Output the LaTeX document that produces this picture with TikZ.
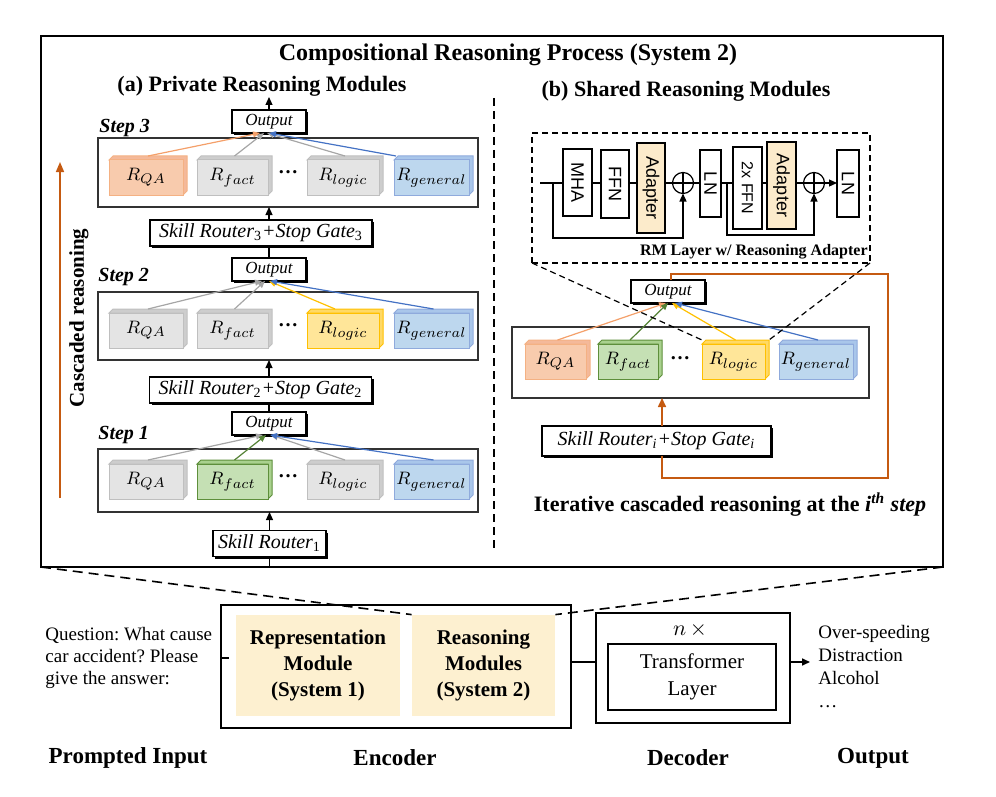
\documentclass[tikz,border=0pt]{standalone}
\usepackage{fontspec}
\setmainfont{Liberation Serif}
\newfontfamily\arialf{Liberation Sans}
\usetikzlibrary{arrows.meta,shadows,calc}
\frenchspacing
\definecolor{qaF}{HTML}{F8CBAD}\definecolor{qaD}{HTML}{F4B183}\definecolor{qaS}{HTML}{F4B99A}
\definecolor{grF}{HTML}{E4E4E4}\definecolor{grD}{HTML}{BFBFBF}\definecolor{grS}{HTML}{CDCDCD}
\definecolor{gnF}{HTML}{C5E0B4}\definecolor{gnD}{HTML}{5E8F3B}\definecolor{gnS}{HTML}{A9D18E}
\definecolor{yeF}{HTML}{FFE699}\definecolor{yeD}{HTML}{FFC000}\definecolor{yeS}{HTML}{FFD966}
\definecolor{blF}{HTML}{BDD7EE}\definecolor{blD}{HTML}{8FAADC}\definecolor{blS}{HTML}{A9C6EA}
\definecolor{arrOr}{HTML}{F4A06A}\definecolor{arrGr}{HTML}{A6A6A6}\definecolor{arrGn}{HTML}{548235}
\definecolor{arrYe}{HTML}{FFC000}\definecolor{arrBl}{HTML}{4472C4}
\definecolor{casc}{HTML}{C55A11}\definecolor{adaptF}{HTML}{FCEBCB}\definecolor{encF}{HTML}{FDF0D0}
\newcommand\rmod[6]{%
  \filldraw[draw=#5D, fill=#5S, line width=0.5pt] (#2,#4+4) -- (#2+4,#4) -- (#3,#4) -- (#3,#4+35) -- (#3-4,#4+39) -- (#3-4,#4+4) -- cycle;
  \pgfmathsetmacro\modw{(#3-4-#2)*0.5}%
  \node[draw=#5D, fill=#5F, line width=0.5pt, anchor=north west, minimum width=\modw pt, minimum height=17.5pt, inner sep=0, outer sep=0, font=\fontsize{9.5}{10}\selectfont] (#1) at (#2,#4+4) {#6};
}
\begin{document}
\begin{tikzpicture}[x=0.5pt,y=-0.5pt,
  outbox/.style={draw, line width=0.6pt, fill=white, inner sep=0, outer sep=0, minimum width=37pt, minimum height=11.5pt, font=\fontsize{8.5}{9}\selectfont\itshape, general shadow={fill=black, shadow xshift=1pt, shadow yshift=-1pt}},
  routerbox/.style={draw, line width=0.6pt, fill=white, inner sep=0, outer sep=0, minimum height=13pt, font=\fontsize{10}{11}\selectfont\itshape, general shadow={fill=black, shadow xshift=1pt, shadow yshift=-1pt}},
  stepbox/.style={draw=black!80, line width=0.6pt, inner sep=0, outer sep=0},
  mainarr/.style={line width=0.6pt, -{Triangle[length=4pt,width=3.5pt]}},
  carr/.style={line width=0.6pt, -{Triangle[length=3.5pt,width=3pt]}},
  blk/.style={draw, line width=0.6pt, inner sep=0, outer sep=0, rotate=-90, font=\arialf\fontsize{9}{10}\selectfont},
  plusc/.style={circle, draw, line width=0.6pt, minimum size=10.5pt, inner sep=0, outer sep=0, path picture={\draw[line width=0.6pt] (path picture bounding box.north) -- (path picture bounding box.south) (path picture bounding box.west) -- (path picture bounding box.east);}},
  head/.style={font=\fontsize{11}{13}\selectfont\bfseries},
  steplbl/.style={anchor=west, inner sep=0, font=\fontsize{10}{11}\selectfont\bfseries\itshape},
  bottomlbl/.style={font=\fontsize{11.5}{13}\selectfont\bfseries},
  zoomline/.style={line width=0.8pt, dash pattern=on 5pt off 3pt}
]
\useasboundingbox (0,0) rectangle (996,797);
% outer box
\node[draw, line width=1pt, minimum width=451pt, minimum height=265.5pt, anchor=north west, inner sep=0, outer sep=0] (outer) at (41,36) {};
\node[font=\fontsize{12}{14}\selectfont\bfseries] (title) at (508,55) {Compositional Reasoning Process (System 2)};
\node[head] (ha) at (262,86) {(a) Private Reasoning Modules};
\node[head] (hb) at (686,91) {(b) Shared Reasoning Modules};
\draw[line width=0.8pt, dash pattern=on 4pt off 2.5pt] (494,98) -- (494,552);

% ---------- (a) private
\coordinate (cA) at (60,498); \coordinate (cB) at (60,162);
\draw[casc, line width=0.8pt, -{Triangle[length=5pt,width=4pt]}] (cA) -- (cB);
\node[rotate=90, font=\fontsize{10.5}{12}\selectfont\bfseries] (cascl) at (79,318) {Cascaded reasoning};

\node[stepbox, minimum width=190pt, minimum height=34.5pt] (s3) at (288,172.5) {};
\node[stepbox, minimum width=190pt, minimum height=34pt] (s2) at (288,326) {};
\node[stepbox, minimum width=190pt, minimum height=31.5pt] (s1) at (288,480.5) {};

\node[steplbl] (st3) at (99,128) {Step 3};
\node[steplbl] (st2) at (98,277) {Step 2};
\node[steplbl] (st1) at (98,435) {Step 1};

\node[outbox] (out3) at (269,121.5) {Output};
\node[outbox] (out2) at (269,269.5) {Output};
\node[outbox] (out1) at (269,423.5) {Output};
\node[routerbox, minimum width=111pt] (r3) at (261,233) {Skill Router\textsubscript{\upshape 3}+Stop Gate\textsubscript{\upshape 3}};
\node[routerbox, minimum width=111pt] (r2) at (260.5,390) {Skill Router\textsubscript{\upshape 2}+Stop Gate\textsubscript{\upshape 2}};
\node[routerbox, minimum width=56.5pt] (r1) at (269.5,543.5) {Skill Router\textsubscript{\upshape 1}};

% step 3 modules
\rmod{qa3}{109}{187}{156}{qa}{$R_{QA}$}
\rmod{fa3}{197}{272}{156}{gr}{$R_{fact}$}
\node[font=\fontsize{10}{10}\selectfont\bfseries] (d3) at (288,172) {\ldots};
\rmod{lo3}{307}{383}{156}{gr}{$R_{logic}$}
\rmod{ge3}{394}{473}{156}{bl}{$R_{general}$}
% step 2 modules
\rmod{qa2}{109}{187}{309}{gr}{$R_{QA}$}
\rmod{fa2}{197}{272}{309}{gr}{$R_{fact}$}
\node[font=\fontsize{10}{10}\selectfont\bfseries] (d2) at (288,325) {\ldots};
\rmod{lo2}{307}{383}{309}{ye}{$R_{logic}$}
\rmod{ge2}{394}{473}{309}{bl}{$R_{general}$}
% step 1 modules
\rmod{qa1}{109}{187}{460}{gr}{$R_{QA}$}
\rmod{fa1}{197}{272}{460}{gn}{$R_{fact}$}
\node[font=\fontsize{10}{10}\selectfont\bfseries] (d1) at (288,476) {\ldots};
\rmod{lo1}{307}{383}{460}{gr}{$R_{logic}$}
\rmod{ge1}{394}{473}{460}{bl}{$R_{general}$}

% module arrows step 3
\draw[carr, arrGr] ([shift={(2,-4)}]fa3.north) -- ([xshift=-2.5pt]out3.south);
\draw[carr, arrGr] ([shift={(2,-4)}]lo3.north) -- ([xshift=-1pt]out3.south);
\draw[carr, arrOr] ([shift={(2,-4)}]qa3.north) -- ([xshift=-4.5pt]out3.south);
\draw[carr, arrBl] ([shift={(2,-4)}]ge3.north west) -- ([xshift=0pt]out3.south);
% step 2
\draw[carr, arrGr] ([shift={(2,-4)}]qa2.north) -- ([xshift=-3.5pt]out2.south);
\draw[carr, arrGr] ([shift={(2,-4)}]fa2.north) -- ([xshift=-2pt]out2.south);
\draw[carr, arrYe] ([shift={(-8,-4)}]lo2.north) -- ([xshift=0pt]out2.south);
\draw[carr, arrBl] ([shift={(2,-4)}]ge2.north) -- ([xshift=0.5pt]out2.south);
% step 1
\draw[carr, arrGr] ([shift={(2,-4)}]qa1.north) -- ([xshift=-3pt]out1.south);
\draw[carr, arrGr] ([shift={(2,-4)}]lo1.north) -- ([xshift=1pt]out1.south);
\draw[carr, arrGn] ([shift={(2,-4)}]fa1.north) -- ([xshift=-1.5pt]out1.south);
\draw[carr, arrBl] ([shift={(2,-4)}]ge1.north) -- ([xshift=0.5pt]out1.south);

% main flow
\coordinate (top3) at (269,97);
\draw[mainarr] (out3.north) -- (top3);
\draw[mainarr] (out3.south |- r3.north) -- (out3.south |- s3.south);
\draw[line width=0.6pt] (out2.north) -- (out2.north |- r3.south);
\draw[mainarr] (out2.south |- r2.north) -- (out2.south |- s2.south);
\draw[line width=0.6pt] (out1.north) -- (out1.north |- r2.south);
\draw[mainarr] (r1.north) -- (r1.north |- s1.south);
\draw[line width=0.6pt] (r1.south) -- (r1.south |- outer.south);

% ---------- (b) shared
\node[draw, line width=0.6pt, dash pattern=on 3pt off 2pt, minimum width=169pt, minimum height=65pt, anchor=north west, inner sep=0, outer sep=0] (rm) at (532,133) {};
\node[blk, minimum width=33.5pt, minimum height=14.5pt] (mha) at (577.5,182.5) {MHA};
\node[blk, minimum width=34pt, minimum height=14pt] (ffn) at (615,184) {FFN};
\node[blk, fill=adaptF, minimum width=45pt, minimum height=14pt] (ad1) at (651,188) {Adapter};
\node[plusc] (p1) at (683,183) {};
\node[blk, minimum width=33.5pt, minimum height=10.5pt] (ln1) at (710.5,183.5) {LN};
\node[blk, minimum width=41pt, minimum height=14.5pt, font=\arialf\fontsize{8}{9}\selectfont] (ff2) at (747.5,188) {2x FFN};
\node[blk, fill=adaptF, minimum width=43.5pt, minimum height=14.5pt] (ad2) at (781.5,185.5) {Adapter};
\node[plusc] (p2) at (814,183) {};
\node[blk, minimum width=33.5pt, minimum height=11pt] (ln2) at (848,183.5) {LN};
\coordinate (in) at (540,183);
\coordinate (sk1) at (553,183);
\coordinate (sk2) at (727,183);
\draw[line width=0.6pt] (in) -- (in -| mha.south) (in -| mha.north) -- (in -| ffn.south) (in -| ffn.north) -- (in -| ad1.south) (in -| ad1.north) -- (p1.west) (p1.east) -- (in -| ln1.south) (in -| ln1.north) -- (in -| ff2.south) (in -| ff2.north) -- (in -| ad2.south) (in -| ad2.north) -- (p2.west);
\draw[mainarr] (p2.east) -- (in -| ln2.south);
\draw[mainarr] (sk1) -- ++(0,55) -| (p1.south);
\draw[mainarr] (sk2) -- ++(0,52) -| (p2.south);
\node[anchor=east, inner sep=0, font=\fontsize{8}{9}\selectfont\bfseries] (rml) at (868,252) {RM Layer w/ Reasoning Adapter};

\node[stepbox, minimum width=178.5pt, minimum height=35.5pt, anchor=north west] (mb) at (512,327) {};
\rmod{qab}{525}{590}{340}{qa}{$R_{QA}$}
\rmod{fab}{598}{662}{340}{gn}{$R_{fact}$}
\node[font=\fontsize{10}{10}\selectfont\bfseries] (db) at (680,358) {\ldots};
\rmod{lob}{702}{769}{340}{ye}{$R_{logic}$}
\rmod{geb}{779}{857}{340}{bl}{$R_{general}$}
\node[outbox] (outb) at (668,291.5) {Output};
\draw[carr, arrOr] ([shift={(2,-4)}]qab.north) -- ([xshift=-1pt]outb.south);
\draw[carr, arrGn] ([shift={(2,-4)}]fab.north) -- ([xshift=0pt]outb.south);
\draw[carr, arrYe] ([shift={(2,-4)}]lob.north) -- ([xshift=2pt]outb.south);
\draw[carr, arrBl] ([shift={(2,-4)}]geb.north) -- ([xshift=3.5pt]outb.south);

\draw[line width=0.6pt, dash pattern=on 3pt off 2pt] (rm.south west) -- ([shift={(0,-4)}]lob.north west);
\draw[line width=0.6pt, dash pattern=on 3pt off 2pt] (rm.south east) -- ([shift={(4,-4)}]lob.north east);

\node[routerbox, minimum width=114.5pt, minimum height=15pt] (rb) at (656.5,441) {Skill Router\textsubscript{i}+Stop Gate\textsubscript{i}};
\coordinate (loopc) at (888,274);
\draw[casc, line width=0.8pt, -{Triangle[length=4.5pt,width=4pt]}] ([xshift=2.75pt]rb.north) -- ([xshift=2.75pt]rb.north |- mb.south);
\draw[casc, line width=0.8pt] ([xshift=2.75pt]rb.south) -- ++(0,22) -| (loopc) -| ([xshift=1.5pt]outb.north);
\node[font=\fontsize{11}{13}\selectfont\bfseries] (itl) at (730,505) {Iterative cascaded reasoning at the \textit{i}\textsuperscript{\textit{th}} \textit{step}};

% ---------- bottom
\node[draw, line width=0.8pt, minimum width=175pt, minimum height=61.5pt, inner sep=0, outer sep=0] (enc) at (396,666.5) {};
\node[fill=encF, minimum width=82pt, minimum height=50.5pt, inner sep=0, align=center, font=\fontsize{10.5}{13}\selectfont\bfseries] (rep) at (318,665.5) {Representation\\Module\\(System 1)};
\node[fill=encF, minimum width=71.5pt, minimum height=50.5pt, inner sep=0, align=center, font=\fontsize{10.5}{13}\selectfont\bfseries] (rea) at (483.5,665.5) {Reasoning\\Modules\\(System 2)};
\draw[zoomline] (outer.south west) -- (rea.north west);
\draw[zoomline] (outer.south east) -- (rea.north east);

\node[anchor=west, align=left, inner sep=0, font=\fontsize{9.5}{11}\selectfont] (q) at (45,658) {Question: What cause\\car accident? Please\\give the answer:};
\draw[line width=0.8pt] ([xshift=4pt]q.east) -- ([xshift=4pt]q.east -| enc.west);

\node[draw, line width=0.8pt, minimum width=97pt, minimum height=55pt, inner sep=0, outer sep=0] (dec) at (693,668) {};
\node[draw, line width=0.8pt, minimum width=84pt, minimum height=33pt, inner sep=0, outer sep=0, align=center, font=\fontsize{10.5}{13.5}\selectfont] (tl) at (692,677) {Transformer\\Layer};
\node[font=\fontsize{10.5}{12}\selectfont] (nx) at (690,630) {$n\,\times$};
\coordinate (midy) at (0,662);
\draw[line width=0.8pt] (enc.east |- midy) -- (dec.west |- midy);
\node[anchor=west, align=left, inner xsep=4pt, inner ysep=0, font=\fontsize{9.5}{11.5}\selectfont] (outt) at (810,667) {Over-speeding\\Distraction\\Alcohol\\\ldots};
\draw[mainarr, line width=0.8pt] (dec.east |- midy) -- (outt.west |- midy);

\node[bottomlbl] (bl1) at (128,758) {Prompted Input};
\node[bottomlbl] (bl2) at (395,758) {Encoder};
\node[bottomlbl] (bl3) at (688,758) {Decoder};
\node[bottomlbl] (bl4) at (873,758) {Output};
\end{tikzpicture}
\end{document}
